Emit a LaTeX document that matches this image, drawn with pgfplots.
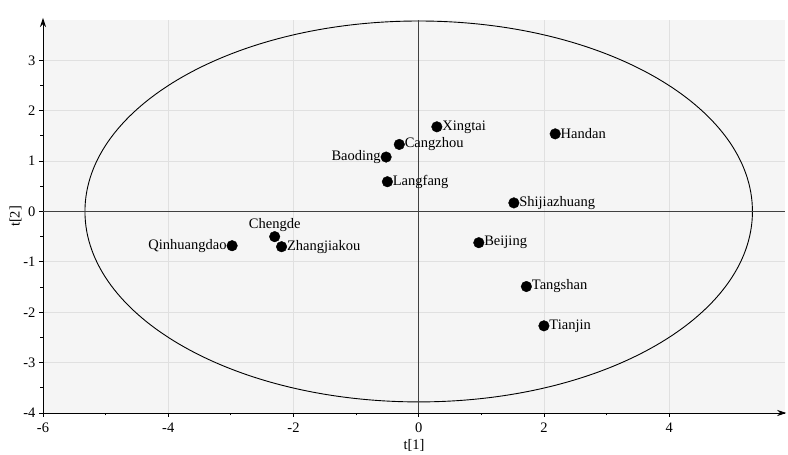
\documentclass[border=0pt]{standalone}
\usepackage{fontspec}
\setmainfont{Liberation Serif}
\usepackage{pgfplots}
\pgfplotsset{compat=1.18}
\usetikzlibrary{arrows.meta}
\pgfplotsset{layers/mine/.define layer set={axis background,ellbg,axis grid,axis ticks,main,axis lines,axis tick labels,axis descriptions,axis foreground}{}}
\pgfplotstableread{
x y label
0.29 1.68 Xingtai
2.18 1.54 Handan
-0.31 1.33 Cangzhou
-0.50 0.59 Langfang
1.52 0.17 Shijiazhuang
0.96 -0.62 Beijing
1.72 -1.49 Tangshan
2.00 -2.27 Tianjin
-2.19 -0.70 Zhangjiakou
}\rightpts
\pgfplotstableread{
x y label
-0.52 1.08 Baoding
-2.98 -0.68 Qinhuangdao
}\leftpts
\pgfplotstableread{
x y label
-2.30 -0.50 Chengde
}\toppts
\begin{document}
\begin{tikzpicture}
\begin{axis}[
  name=ax,
  set layers=mine,
  scale only axis,
  width=742pt, height=393pt,
  xmin=-6, xmax=5.85, ymin=-4, ymax=3.8,
  axis lines=left,
  axis line style={-, black, line width=0.9pt},
  xtick={-6,-4,-2,0,2,4},
  ytick={-4,-3,-2,-1,0,1,2,3},
  minor x tick num=1, minor y tick num=1,
  tick align=outside,
  major tick length=4pt, minor tick length=2.5pt,
  tick style={black, line width=0.8pt},
  grid=major,
  major grid style={black!12, line width=0.7pt},
  axis background/.style={fill=black!4},
  /pgf/number format/assume math mode=true,
  tick label style={font=\fontsize{14.5}{16}\selectfont},
  label style={font=\fontsize{14.5}{16}\selectfont},
  xticklabel style={yshift=-2pt},
  xlabel={t[1]}, ylabel={t[2]},
  xlabel style={yshift=0pt},
  ylabel style={yshift=-5pt},
  clip=false,
]
\begin{pgfonlayer}{ellbg}
\fill[white] (axis cs:0,0) ellipse [x radius=5.33, y radius=3.78];
\end{pgfonlayer}
\draw[black, line width=0.9pt] (axis cs:0,0) ellipse [x radius=5.33, y radius=3.78];
\addplot[black!75, line width=1.2pt] coordinates {(-6,0) (5.85,0)};
\addplot[black!75, line width=1.2pt] coordinates {(0,-4) (0,3.8)};
\begin{pgfonlayer}{axis foreground}
\draw[black, line width=0.9pt, -{Stealth[length=9pt,width=6pt]}] (axis cs:5.6,-4) -- (axis cs:5.87,-4);
\draw[black, line width=0.9pt, -{Stealth[length=9pt,width=6pt]}] (axis cs:-6,3.5) -- (axis cs:-6,3.84);
\end{pgfonlayer}
\addplot[only marks, mark=*, mark size=5.3pt, black,
  nodes near coords, point meta=explicit symbolic,
  nodes near coords style={anchor=west, xshift=4.8pt, inner sep=0.5pt, font=\fontsize{14.5}{16}\selectfont}]
  table[meta=label] {\rightpts};
\addplot[only marks, mark=*, mark size=5.3pt, black,
  nodes near coords, point meta=explicit symbolic,
  nodes near coords style={anchor=east, xshift=-4.8pt, inner sep=0.5pt, font=\fontsize{14.5}{16}\selectfont}]
  table[meta=label] {\leftpts};
\addplot[only marks, mark=*, mark size=5.3pt, black,
  nodes near coords, point meta=explicit symbolic,
  nodes near coords style={anchor=south, yshift=4.5pt, inner sep=0.5pt, font=\fontsize{14.5}{16}\selectfont}]
  table[meta=label] {\toppts};
\end{axis}
\pgfresetboundingbox
\path ([shift={(-43pt,-42pt)}]ax.south west) rectangle ([shift={(3pt,20pt)}]ax.north east);
\end{tikzpicture}
\end{document}
